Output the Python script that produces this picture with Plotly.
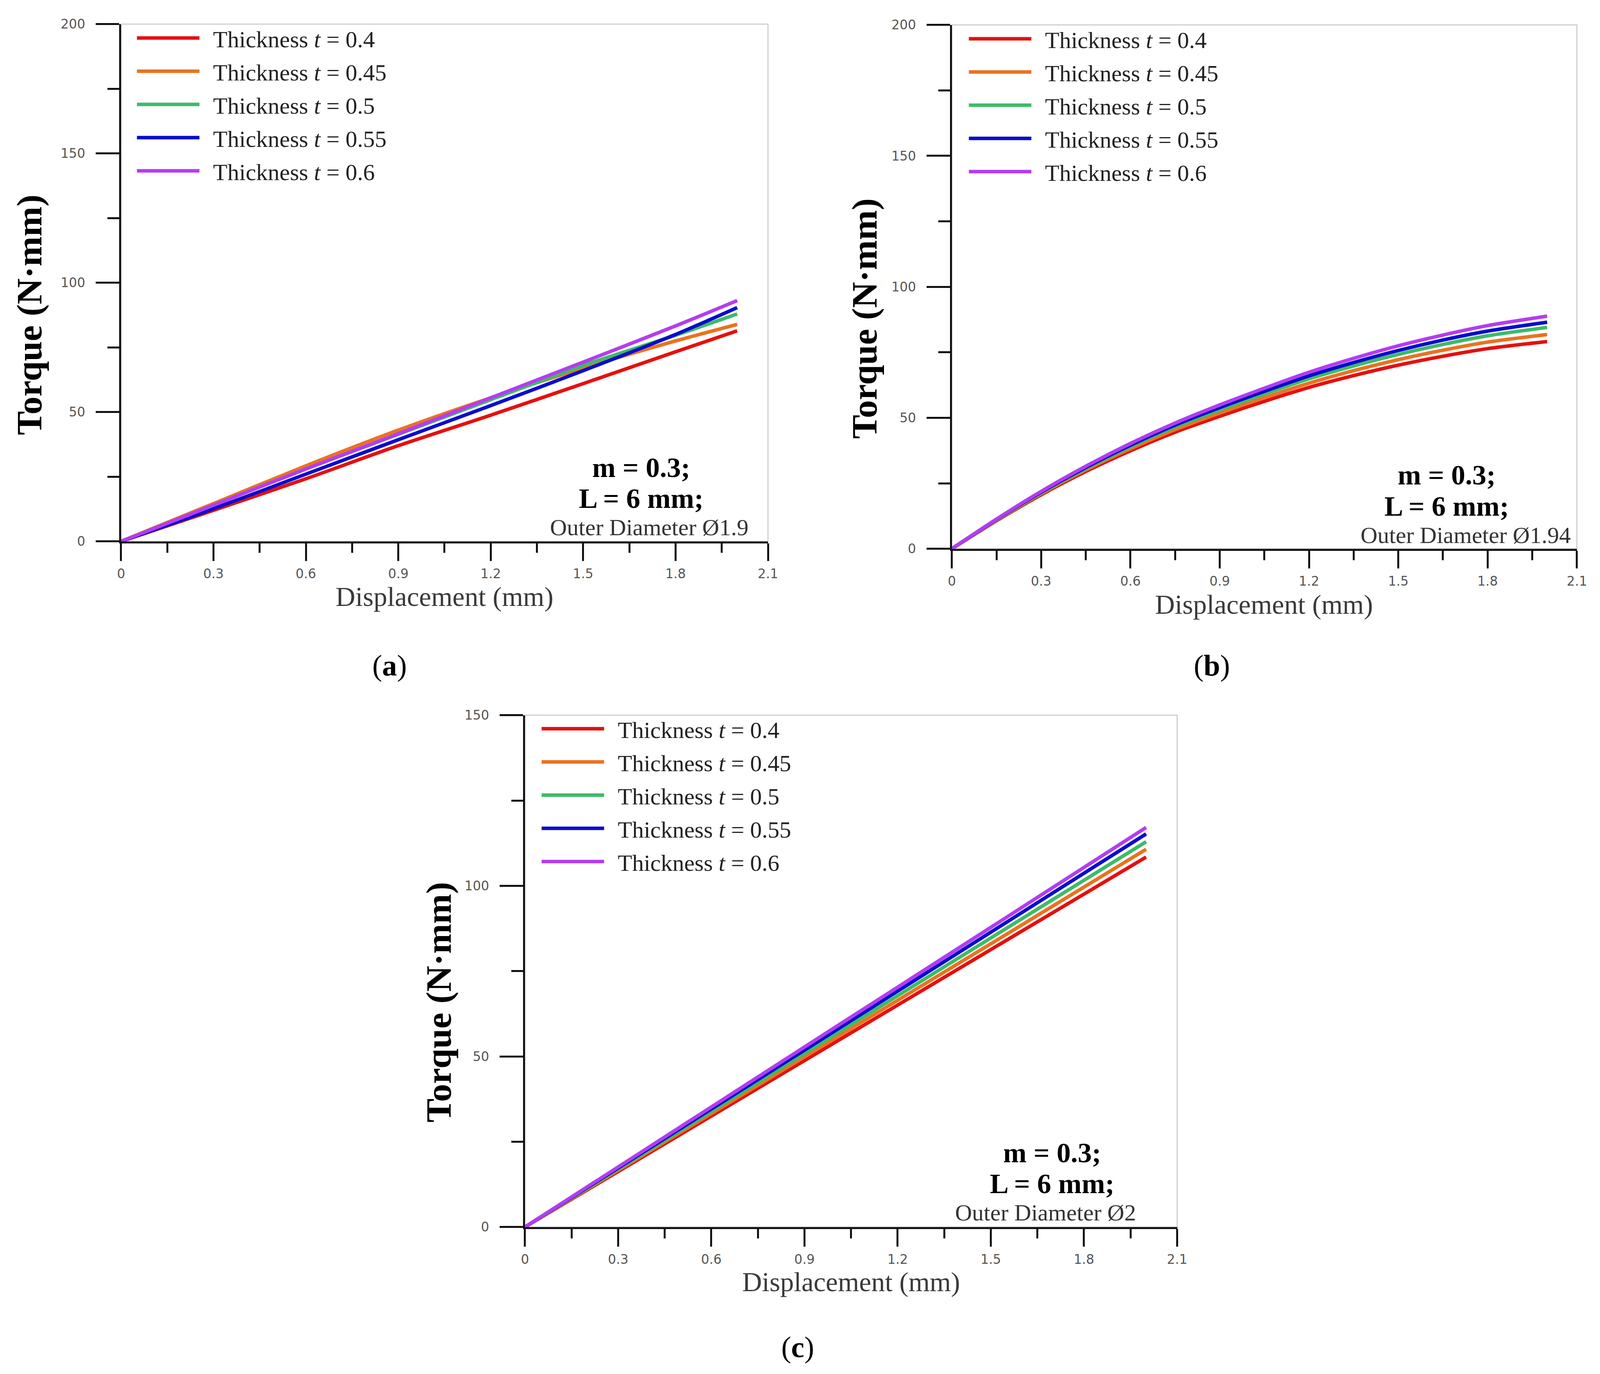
import plotly.graph_objects as go

W, H = 4230, 3517   # design canvas (pixels); figure autosizes to the window

# ---------------- data ----------------
thickness_labels = ["Thickness <i>t</i> = 0.4", "Thickness <i>t</i> = 0.45",
                    "Thickness <i>t</i> = 0.5", "Thickness <i>t</i> = 0.55",
                    "Thickness <i>t</i> = 0.6"]
colors = ["#e5100f", "#ea7220", "#3dbb68", "#0a0ccc", "#b43cf2"]

# panel (a): outer diameter 1.9
disp_a = [0, 0.3, 0.6, 0.9, 1.2, 1.5, 1.8, 2.0]
a_t040 = [0, 12.0, 24.2, 37.0, 48.8, 61.0, 73.3, 81.4]
a_t045 = [0, 14.6, 29.2, 43.0, 55.5, 67.0, 77.5, 83.9]
a_t050 = [0, 14.0, 28.0, 41.4, 54.8, 68.0, 79.7, 87.9]
a_t055 = [0, 12.6, 26.0, 39.3, 52.5, 66.0, 80.0, 90.4]
a_t060 = [0, 14.0, 28.0, 41.6, 55.5, 69.3, 83.3, 93.1]

# panel (b): outer diameter 1.94
disp_b = [0, 0.15, 0.3, 0.45, 0.6, 0.75, 0.9, 1.05, 1.2, 1.35, 1.5, 1.65, 1.8, 2.0]
b_t040 = [0, 10.7, 20.6, 29.5, 37.4, 44.5, 50.6, 56.3, 61.6, 66.1, 70.1, 73.5, 76.4, 79.1]
b_t045 = [0, 10.9, 21.0, 30.1, 38.2, 45.5, 51.8, 57.7, 63.2, 68.0, 72.2, 75.8, 78.9, 81.8]
b_t050 = [0, 11.0, 21.3, 30.6, 39.0, 46.5, 53.0, 59.1, 64.9, 69.8, 74.2, 78.0, 81.3, 84.5]
b_t055 = [0, 11.2, 21.6, 31.0, 39.5, 47.2, 53.9, 60.1, 66.0, 71.1, 75.7, 79.7, 83.1, 86.5]
b_t060 = [0, 11.3, 21.9, 31.5, 40.2, 48.0, 54.9, 61.3, 67.4, 72.7, 77.5, 81.6, 85.2, 88.8]

# panel (c): outer diameter 2
disp_c = [0, 0.5, 1.0, 1.5, 2.0]
c_t040 = [0, 27.1, 54.2, 81.3, 108.4]
c_t045 = [0, 27.7, 55.4, 83.0, 110.7]
c_t050 = [0, 28.2, 56.5, 84.7, 112.9]
c_t055 = [0, 28.8, 57.6, 86.4, 115.2]
c_t060 = [0, 29.3, 58.6, 87.8, 117.1]

x_ticks = [0, 0.3, 0.6, 0.9, 1.2, 1.5, 1.8, 2.1]
x_ticklabels = ["0", "0.3", "0.6", "0.9", "1.2", "1.5", "1.8", "2.1"]
y_ticks_ab = [0, 50, 100, 150, 200]
y_ticks_c = [0, 50, 100, 150]

panel_notes = [("m = 0.3;", "L = 6 mm;", "Outer Diameter Ø1.9"),
               ("m = 0.3;", "L = 6 mm;", "Outer Diameter Ø1.94"),
               ("m = 0.3;", "L = 6 mm;", "Outer Diameter Ø2")]
panel_labels = ["(<b>a</b>)", "(<b>b</b>)", "(<b>c</b>)"]
y_title = "Torque (N·mm)"
x_title = "Displacement (mm)"


def px(v):
    return v / W


def py(v):
    return 1 - v / H


fig = go.Figure()

panels = [
    ("x", "y", "legend", disp_a, [a_t040, a_t045, a_t050, a_t055, a_t060]),
    ("x2", "y2", "legend2", disp_b, [b_t040, b_t045, b_t050, b_t055, b_t060]),
    ("x3", "y3", "legend3", disp_c, [c_t040, c_t045, c_t050, c_t055, c_t060]),
]
for xa, ya, lg, xs, series in panels:
    for i, ys in enumerate(series):
        fig.add_trace(go.Scatter(
            x=xs, y=ys, mode="lines", name="\u2002" + thickness_labels[i],
            line=dict(color=colors[i], width=9, shape="spline", smoothing=0.8),
            xaxis=xa, yaxis=ya, legend=lg, legendgroup=f"{lg}_{i}",
            showlegend=True))

geom = {
    "a": dict(x0=313, x1=2030, ytop=54, ybot=1384),
    "b": dict(x0=2518, x1=4177, ytop=56, ybot=1403),
    "c": dict(x0=1385, x1=3116, ytop=1831, ybot=3147),
}

tickfont = dict(family="DejaVu Sans", size=33, color="#555555")


def xaxis_cfg(g):
    return dict(domain=[px(g["x0"]), px(g["x1"])], range=[0, 2.1],
                tickvals=x_ticks, ticktext=x_ticklabels,
                showline=True, linecolor="#111111", linewidth=5,
                ticks="outside", ticklen=45, tickwidth=5, tickcolor="#111111",
                minor=dict(ticks="outside", ticklen=24, tickwidth=5,
                           tickcolor="#111111", dtick=0.15, tick0=0, showgrid=False),
                showgrid=False, zeroline=False, tickfont=tickfont,
                ticklabelstandoff=5, fixedrange=True)


def yaxis_cfg(g, top, ticks):
    return dict(domain=[py(g["ybot"]), py(g["ytop"])], range=[0, top],
                tickvals=ticks, ticktext=[str(t) for t in ticks],
                showline=True, linecolor="#111111", linewidth=5,
                ticks="outside", ticklen=60, tickwidth=5, tickcolor="#111111",
                minor=dict(ticks="outside", ticklen=30, tickwidth=5,
                           tickcolor="#111111", dtick=25, tick0=0, showgrid=False),
                showgrid=False, zeroline=False, tickfont=tickfont,
                ticklabelstandoff=20, fixedrange=True)


legend_common = dict(
    font=dict(family="Liberation Serif", size=60, color="#222222"),
    bgcolor="rgba(0,0,0,0)", borderwidth=0, itemwidth=160,
    xanchor="left", yanchor="top", tracegroupgap=4, valign="middle",
    traceorder="grouped", itemclick=False, itemdoubleclick=False)

fig.update_layout(
    autosize=True,
    margin=dict(l=0, r=0, t=0, b=0, autoexpand=False),
    paper_bgcolor="white", plot_bgcolor="white",
    xaxis=dict(xaxis_cfg(geom["a"]), anchor="y"),
    yaxis=dict(yaxis_cfg(geom["a"], 200, y_ticks_ab), anchor="x"),
    xaxis2=dict(xaxis_cfg(geom["b"]), anchor="y2"),
    yaxis2=dict(yaxis_cfg(geom["b"], 200, y_ticks_ab), anchor="x2"),
    xaxis3=dict(xaxis_cfg(geom["c"]), anchor="y3"),
    yaxis3=dict(yaxis_cfg(geom["c"], 150, y_ticks_c), anchor="x3"),
    legend=dict(legend_common, x=px(350), y=py(44)),
    legend2=dict(legend_common, x=px(2558), y=py(46)),
    legend3=dict(legend_common, x=px(1424), y=py(1820)),
    showlegend=True,
)

# light grey frame on top / right of each plot area
for xa, ya in [("x", "y"), ("x2", "y2"), ("x3", "y3")]:
    fig.add_shape(type="rect", xref=f"{xa} domain", yref=f"{ya} domain",
                  x0=0, x1=1, y0=0, y1=1, line=dict(color="#cfcfcf", width=3),
                  layer="below")

serif = "Liberation Serif"
ann = []
for (cx, cy) in [(70, 802), (2286, 811), (1156, 2569)]:
    ann.append(dict(x=px(cx), y=py(cy), xref="paper", yref="paper",
                    text=f"<b>{y_title}</b>", textangle=-90, showarrow=False,
                    font=dict(family=serif, size=92, color="black"),
                    xanchor="center", yanchor="middle"))
for (cx, cy) in [(1172, 1526), (3347, 1547), (2251, 3288)]:
    ann.append(dict(x=px(cx), y=py(cy), xref="paper", yref="paper",
                    text=x_title, showarrow=False,
                    font=dict(family=serif, size=70, color="#3a3a3a"),
                    xanchor="center", yanchor="middle"))
for lab, (cx, cy) in zip(panel_labels, [(1026, 1703), (3208, 1703), (2109, 3456)]):
    ann.append(dict(x=px(cx), y=py(cy), xref="paper", yref="paper",
                    text=lab, showarrow=False,
                    font=dict(family=serif, size=76, color="black"),
                    xanchor="center", yanchor="middle"))
note_pos = [((1694, 1194), (1694, 1274), (1715, 1348)),
            ((3831, 1214), (3831, 1294), (3882, 1368)),
            ((2784, 2956), (2784, 3036), (2767, 3110))]
for notes, pos in zip(panel_notes, note_pos):
    for k, (txt, (cx, cy)) in enumerate(zip(notes, pos)):
        if k < 2:
            f = dict(family=serif, size=72, color="black")
            t = f"<b>{txt}</b>"
        else:
            f = dict(family=serif, size=60, color="#333333")
            t = txt
        ann.append(dict(x=px(cx), y=py(cy), xref="paper", yref="paper",
                        text=t, showarrow=False, font=f,
                        xanchor="center", yanchor="middle"))
fig.update_layout(annotations=ann)

fig.write_html("out.html", default_width="calc(100vw - 16px)",
               default_height="calc(100vh - 16px)")
